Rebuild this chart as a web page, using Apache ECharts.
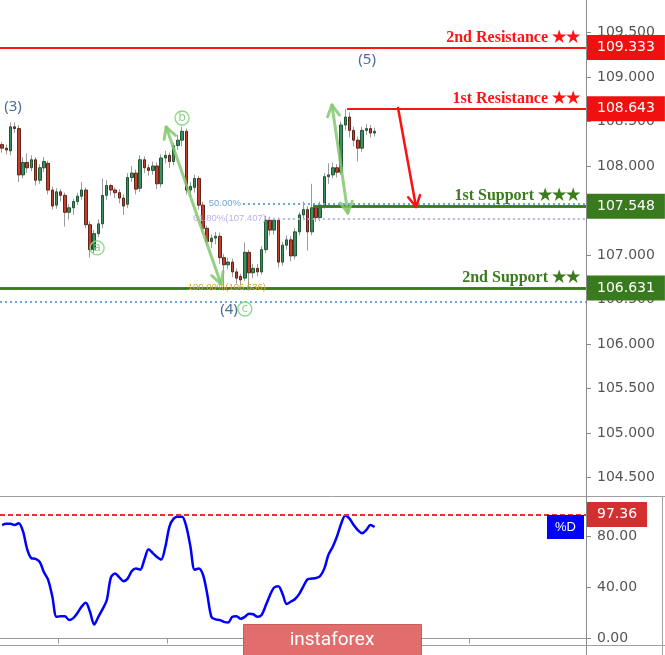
<!DOCTYPE html>
<html>
<head>
<meta charset="utf-8">
<title>USDJPY H1</title>
<script src="https://cdn.jsdelivr.net/npm/echarts@6/dist/echarts.min.js"></script>
<style>
  html, body { margin: 0; padding: 0; background: #fff; }
  #chart { width: 665px; height: 655px; }
</style>
</head>
<body>
<div id="chart"></div>
<script>
// slots on the time axis (candles fill the first 90, the rest is empty space)
const SLOTS = 140;
const slotLabels = Array.from({ length: SLOTS }, (_, i) => String(i));
const dateTickSlots = [14, 40, 112];

// candles
const opens = [
  108.24, 108.20, 108.17, 108.44, 108.42, 107.90, 108.04, 107.98, 108.07, 107.84,
  107.98, 108.03, 107.73, 107.56, 107.71, 107.67, 107.48, 107.53, 107.60, 107.66,
  107.73, 107.34, 107.06, 107.24, 107.35, 107.67, 107.78, 107.73, 107.70, 107.64,
  107.57, 107.87, 107.92, 107.75, 108.07, 107.98, 107.95, 108.00, 107.80, 108.09,
  108.12, 108.05, 108.23, 108.29, 108.39, 107.73, 107.76, 107.86, 107.56, 107.30,
  107.15, 107.19, 107.21, 106.97, 106.89, 106.92, 106.81, 106.76, 106.74, 107.03,
  106.80, 106.85, 106.81, 107.06, 107.39, 107.28, 107.39, 106.92, 107.11, 107.17,
  106.99, 107.26, 107.45, 107.51, 107.26, 107.53, 107.42, 107.56, 107.88, 107.90,
  107.98, 107.93, 108.46, 108.55, 108.40, 108.29, 108.20, 108.40, 108.42, 108.37
];
const closes = [
  108.20, 108.18, 108.44, 108.42, 107.90, 108.04, 107.98, 108.07, 107.84, 107.98,
  108.05, 107.73, 107.55, 107.71, 107.67, 107.48, 107.53, 107.60, 107.66, 107.73,
  107.34, 107.06, 107.24, 107.35, 107.67, 107.78, 107.73, 107.70, 107.64, 107.55,
  107.87, 107.92, 107.74, 108.07, 107.98, 107.95, 108.00, 107.80, 108.09, 108.12,
  108.05, 108.23, 108.29, 108.39, 107.73, 107.77, 107.86, 107.56, 107.30, 107.15,
  107.19, 107.21, 106.97, 106.89, 106.92, 106.81, 106.74, 106.72, 107.03, 106.80,
  106.85, 106.81, 107.06, 107.39, 107.28, 107.39, 106.92, 107.11, 107.17, 106.99,
  107.26, 107.45, 107.51, 107.26, 107.53, 107.42, 107.56, 107.88, 107.90, 107.98,
  107.93, 108.46, 108.55, 108.40, 108.29, 108.20, 108.40, 108.42, 108.37, 108.39
];
const lows = [
  108.15, 108.13, 108.12, 108.37, 107.82, 107.86, 107.92, 107.94, 107.78, 107.80,
  107.93, 107.68, 107.51, 107.52, 107.60, 107.32, 107.40, 107.45, 107.56, 107.62,
  107.30, 106.97, 107.02, 107.20, 107.30, 107.62, 107.67, 107.64, 107.58, 107.45,
  107.53, 107.82, 107.68, 107.71, 107.92, 107.89, 107.90, 107.74, 107.76, 108.03,
  107.98, 108.01, 108.18, 108.22, 107.68, 107.66, 107.70, 107.51, 107.25, 107.10,
  107.08, 107.12, 106.90, 106.60, 106.84, 106.75, 106.68, 106.66, 106.71, 106.60,
  106.74, 106.76, 106.78, 107.02, 107.22, 107.23, 106.86, 106.88, 107.06, 106.93,
  106.95, 107.22, 107.40, 107.05, 107.22, 107.37, 107.38, 107.52, 107.80, 107.86,
  107.87, 107.90, 108.40, 108.32, 108.22, 108.05, 108.16, 108.35, 108.32, 108.33
];
const highs = [
  108.27, 108.24, 108.49, 108.49, 108.46, 108.10, 108.14, 108.12, 108.10, 108.02,
  108.10, 108.06, 107.77, 107.75, 107.74, 107.70, 107.57, 107.63, 107.70, 107.82,
  107.76, 107.38, 107.28, 107.40, 107.86, 107.84, 107.80, 107.76, 107.74, 107.68,
  107.92, 108.00, 107.96, 108.12, 108.11, 108.02, 108.05, 108.04, 108.13, 108.17,
  108.15, 108.26, 108.35, 108.44, 108.42, 107.82, 107.90, 107.89, 107.60, 107.33,
  107.23, 107.26, 107.25, 107.01, 106.97, 106.96, 106.85, 106.79, 107.14, 107.06,
  106.90, 106.90, 107.10, 107.44, 107.43, 107.42, 107.42, 107.15, 107.22, 107.21,
  107.30, 107.48, 107.60, 107.55, 107.80, 107.56, 107.60, 107.92, 108.03, 108.04,
  108.02, 108.50, 108.64, 108.60, 108.44, 108.33, 108.44, 108.47, 108.46, 108.43
];

// stochastic %D
const stochD = [
  89, 90, 90, 89, 90.5, 84, 70, 63, 62.5, 60,
  52, 46, 33, 17, 17.5, 17.5, 14.5, 16, 20, 25,
  28, 21, 11, 17, 23, 30, 48, 51, 48, 45,
  47, 53, 55, 54, 62, 70, 67, 64, 62, 72,
  88, 94, 95.5, 95.5, 88, 72, 54, 55, 50, 35,
  17, 15, 14.5, 13, 12.5, 17, 17.5, 15.5, 17, 19.5,
  19, 17, 18.5, 26, 34, 40, 41, 35, 27, 29,
  31, 35, 41, 46.5, 47, 47.5, 49, 55, 66, 72,
  80, 90, 96.5, 94, 89, 85, 82.5, 85, 89, 87.5
];
const stochLast = 97.36;

const priceTicks = [104.5, 105, 105.5, 106, 106.5, 107, 107.5, 108, 108.5, 109, 109.5];
const stochTicks = [0, 40, 80];

// support / resistance levels
const levelNames = ['2nd Resistance ★★', '1st Resistance ★★', '1st Support ★★★', '2nd Support ★★'];
const levelValues = [109.333, 108.643, 107.548, 106.631];
const levelFrom = [null, 82.4, 74.3, null];

// fibonacci levels
const fibNames = ['50.00%', '61.80%(107.407)', '100.00%(106.636)'];
const fibValues = [107.579, 107.407, 106.636];
const fibFrom = [57.55, 63.5, 63.5];
const extraDotted = 106.47;

// wave marks
const waveNames = ['(3)', '(5)', '(4)'];
const waveX = [2.6, 87.2, 54.2];
const waveY = [108.663, 109.191, 106.382];
const subNames = ['a', 'b', 'c'];
const subX = [22.7, 43.0, 58.0];
const subY = [107.079, 108.539, 106.393];
const greenArrows = [[39.2, 108.438, 52.3, 106.674], [78.8, 108.685, 82.6, 107.472]];
const redArrows = [[94.6, 108.652, 98.9, 107.539]];

const RED = '#ff1414';
const GREEN = '#3b7b1d';

const chart = echarts.init(document.getElementById('chart'));

function levelColor(i) { return i < 2 ? RED : GREEN; }

function levelLine(i, label) {
    const v = levelValues[i];
    const lineStyle = { color: levelColor(i), width: i < 2 ? 2 : 2.5, type: 'solid' };
    if (levelFrom[i] == null) return { yAxis: v, lineStyle, label };
    return [{ coord: [levelFrom[i], v], lineStyle, label }, { coord: [SLOTS - 0.5, v] }];
}

const nameLines = levelNames.map((n, i) => levelLine(i, {
    show: true, position: 'insideEndTop', formatter: n, color: levelColor(i),
    fontFamily: 'Liberation Serif', fontWeight: 'bold', fontSize: 16, distance: [6, 2]
}));
const boxLines = levelValues.map((v, i) => levelLine(i, {
    show: true, position: 'end', formatter: v.toFixed(3), color: '#fff',
    backgroundColor: i < 2 ? '#f01010' : '#3a7a1e',
    fontFamily: 'DejaVu Sans', fontSize: 14, lineHeight: 16, padding: [5, 10, 4, 10], distance: 1
}));

const fibColors = ['#6ea6dc', '#bdb0e4', '#d6a83a'];
const fibLines = fibNames.map((n, i) => [
    {
        coord: [fibFrom[i], fibValues[i]],
        lineStyle: { color: fibColors[i], width: 2, type: [2, 3] },
        label: { show: true, position: 'start', formatter: n, color: fibColors[i], fontSize: 9.5, fontFamily: 'Liberation Sans', distance: 2 }
    },
    { coord: [SLOTS - 0.5, fibValues[i]] }
]);
fibLines.push({ yAxis: extraDotted, lineStyle: { color: '#6ea6dc', width: 2, type: [2, 3] }, label: { show: false } });

// arrow with open V heads
function arrowHead(tip, from, style) {
    const dx = tip[0] - from[0], dy = tip[1] - from[1];
    const len = Math.hypot(dx, dy);
    const ux = dx / len, uy = dy / len;
    const L = 11, W = 6;
    return {
        type: 'polyline',
        shape: { points: [[tip[0] - ux * L - uy * W, tip[1] - uy * L + ux * W], tip, [tip[0] - ux * L + uy * W, tip[1] - uy * L - ux * W]] },
        style
    };
}
function arrowRenderer(color, width, bothEnds) {
    return (params, api) => {
        const a = api.coord([api.value(0), api.value(1)]);
        const b = api.coord([api.value(2), api.value(3)]);
        const style = { stroke: color, lineWidth: width, fill: 'none', lineCap: 'round', lineJoin: 'round' };
        const children = [{ type: 'line', shape: { x1: a[0], y1: a[1], x2: b[0], y2: b[1] }, style }];
        children.push(arrowHead(b, a, style));
        if (bothEnds) children.push(arrowHead(a, b, style));
        return { type: 'group', children };
    };
}

const option = {
    animation: false,
    backgroundColor: '#fff',
    grid: [
        { left: 0, right: 79, top: 0, height: 496 },
        { left: 0, right: 79, top: 497, bottom: 10 }
    ],
    xAxis: [
        { type: 'category', gridIndex: 0, data: slotLabels, boundaryGap: true, show: false },
        {
            type: 'category', gridIndex: 1, data: slotLabels, boundaryGap: true,
            axisLine: { lineStyle: { color: '#999' } },
            axisTick: { show: true, length: 5, interval: (i) => dateTickSlots.includes(i), lineStyle: { color: '#999' } },
            axisLabel: { show: false }, splitLine: { show: false }
        },
        { type: 'value', gridIndex: 0, min: -0.5, max: SLOTS - 0.5, show: false }
    ],
    yAxis: [
        {
            type: 'value', gridIndex: 0, position: 'right', min: 104.292, max: 109.865,
            axisLine: { show: true, onZero: false, lineStyle: { color: '#8a8a8a' } },
            axisTick: { show: true, length: 5, customValues: priceTicks, lineStyle: { color: '#8a8a8a' } },
            axisLabel: { customValues: priceTicks, formatter: (v) => v.toFixed(3), color: '#555', fontSize: 14, fontFamily: 'DejaVu Sans', margin: 11 },
            splitLine: { show: false }
        },
        {
            type: 'value', gridIndex: 1, position: 'right', min: -5.1, max: 111,
            axisLine: { show: true, onZero: false, lineStyle: { color: '#8a8a8a' } },
            axisTick: { show: true, length: 5, customValues: stochTicks, lineStyle: { color: '#8a8a8a' } },
            axisLabel: { customValues: stochTicks, formatter: (v) => v.toFixed(2), color: '#555', fontSize: 14, fontFamily: 'DejaVu Sans', margin: 11 },
            splitLine: { show: false }
        }
    ],
    series: [
        {
            name: 'fib', type: 'line', xAxisIndex: 2, yAxisIndex: 0, data: [], z: 1,
            markLine: { symbol: ['none', 'none'], silent: true, data: fibLines }
        },
        {
            name: 'wicks', type: 'candlestick', xAxisIndex: 0, yAxisIndex: 0, z: 2, barWidth: 1,
            data: opens.map((o, i) => [o, closes[i], lows[i], highs[i]]),
            itemStyle: { color: '#9c9c9c', color0: '#9c9c9c', borderColor: '#9c9c9c', borderColor0: '#9c9c9c', borderWidth: 1 }
        },
        {
            name: 'bodies', type: 'candlestick', xAxisIndex: 0, yAxisIndex: 0, z: 3, barWidth: 3,
            data: opens.map((o, i) => [o, closes[i], Math.min(o, closes[i]), Math.max(o, closes[i])]),
            itemStyle: { color: '#3d8d5d', color0: '#c23f2e', borderColor: '#1f5636', borderColor0: '#62231a', borderWidth: 1 }
        },
        {
            name: 'levels', type: 'line', xAxisIndex: 2, yAxisIndex: 0, data: [], z: 4,
            markLine: { symbol: ['none', 'none'], silent: true, data: nameLines }
        },
        {
            name: 'levelBoxes', type: 'line', xAxisIndex: 2, yAxisIndex: 0, data: [], z: 5,
            markLine: { symbol: ['none', 'none'], silent: true, data: boxLines }
        },
        {
            name: 'greenArrows', type: 'custom', xAxisIndex: 2, yAxisIndex: 0, z: 6,
            data: greenArrows, renderItem: arrowRenderer('rgba(130,200,110,0.85)', 3, true)
        },
        {
            name: 'redArrows', type: 'custom', xAxisIndex: 2, yAxisIndex: 0, z: 6,
            data: redArrows, renderItem: arrowRenderer('#ff1010', 2.5, false)
        },
        {
            name: 'subWaves', type: 'custom', xAxisIndex: 2, yAxisIndex: 0, z: 6,
            data: subX.map((x, i) => [x, subY[i]]),
            renderItem: (params, api) => {
                const p = api.coord([api.value(0), api.value(1)]);
                return {
                    type: 'group', children: [
                        { type: 'circle', shape: { cx: p[0], cy: p[1], r: 7 }, style: { fill: 'none', stroke: '#8fd58a', lineWidth: 1.3 } },
                        { type: 'text', style: { x: p[0], y: p[1], text: subNames[params.dataIndex], fill: '#8fd58a', font: '12px "DejaVu Sans"', align: 'center', verticalAlign: 'middle' } }
                    ]
                };
            }
        },
        {
            name: 'waves', type: 'custom', xAxisIndex: 2, yAxisIndex: 0, z: 6,
            data: waveX.map((x, i) => [x, waveY[i]]),
            renderItem: (params, api) => {
                const p = api.coord([api.value(0), api.value(1)]);
                return { type: 'text', style: { x: p[0], y: p[1], text: waveNames[params.dataIndex], fill: '#4a7099', font: '15px "Noto Sans"', align: 'center', verticalAlign: 'middle' } };
            }
        },
        {
            name: '%D', type: 'line', xAxisIndex: 1, yAxisIndex: 1, data: stochD,
            smooth: 0.3, symbol: 'none', lineStyle: { color: '#0000ff', width: 2.5 },
            markLine: {
                symbol: ['none', 'none'], silent: true,
                data: [{
                    yAxis: stochLast,
                    lineStyle: { color: '#e53030', type: [5, 3], width: 2 },
                    label: { show: true, position: 'end', formatter: stochLast.toFixed(2), color: '#fff', backgroundColor: '#d32f2f', fontFamily: 'DejaVu Sans', fontSize: 14, lineHeight: 16, padding: [5, 10, 4, 10], distance: 1 }
                }]
            }
        }
    ],
    graphic: [
        { type: 'line', shape: { x1: 0, y1: 496.5, x2: 665, y2: 496.5 }, style: { stroke: '#a0a0a0', lineWidth: 1 }, z: 10 },
        { type: 'line', shape: { x1: 0, y1: 645.5, x2: 665, y2: 645.5 }, style: { stroke: '#a0a0a0', lineWidth: 1 }, z: 10 },
        { type: 'line', shape: { x1: 586.5, y1: 0, x2: 586.5, y2: 655 }, style: { stroke: '#8a8a8a', lineWidth: 1 }, z: 10 },
        { type: 'line', shape: { x1: 662.5, y1: 496, x2: 662.5, y2: 655 }, style: { stroke: '#a0a0a0', lineWidth: 1 }, z: 10 },
        { type: 'rect', shape: { x: 547, y: 515, width: 37, height: 24 }, style: { fill: '#0000ff' }, z: 10 },
        { type: 'text', style: { x: 565.5, y: 527.5, text: '%D', fill: '#fff', font: '13px "Liberation Sans"', align: 'center', verticalAlign: 'middle' }, z: 11 },
        { type: 'rect', shape: { x: 243.5, y: 624.5, width: 178, height: 31 }, style: { fill: '#e26d6d', stroke: '#c95d5d', lineWidth: 1 }, z: 10 },
        { type: 'text', style: { x: 332, y: 640, text: 'instaforex', fill: '#fff', font: '19px Roboto', align: 'center', verticalAlign: 'middle' }, z: 11 }
    ]
};

chart.setOption(option);
</script>
</body>
</html>
